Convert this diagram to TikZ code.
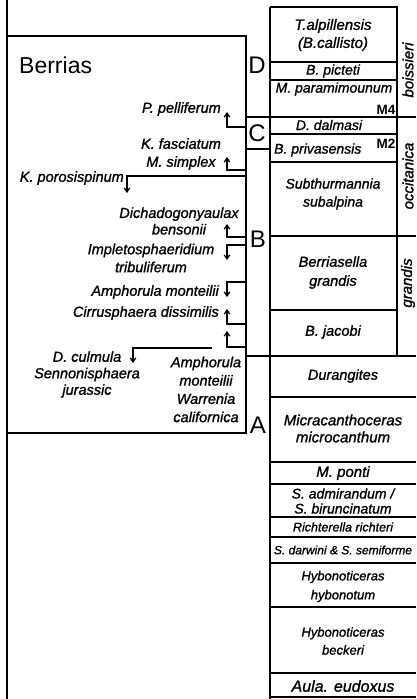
\documentclass[tikz,border=0pt]{standalone}
\usepackage{fontspec}
\setmainfont{Liberation Sans}[ItalicFeatures={FakeBold=1.2}]
\usetikzlibrary{arrows.meta}
\begin{document}
\begin{tikzpicture}[x=1pt,y=-1pt,
  frame/.style={line width=2pt},
  boxline/.style={line width=1.6pt},
  arr/.style={line width=1.3pt,-{Straight Barb[length=4pt,width=5.5pt]}},
  sp/.style={font=\itshape\fontsize{14.5}{16.5}\selectfont,inner sep=0pt,align=center},
  rc/.style={font=\itshape\fontsize{14.5}{18}\selectfont,inner sep=0pt,align=center},
  mk/.style={font=\bfseries\fontsize{13.5}{13.5}\selectfont,inner sep=0pt},
  zone/.style={font=\fontsize{24}{24}\selectfont,inner sep=0pt},
  sub/.style={font=\itshape\fontsize{15}{15}\selectfont,inner sep=0pt,rotate=90}]
\useasboundingbox (0,0) rectangle (416,699);

% frames
\draw[frame] (7,0) -- (7,699);
\draw[frame] (7,36) -- (246,36) -- (246,433) -- (7,433);
\draw[frame] (270,7) -- (270,699);
\draw[frame] (270,7) -- (397,7) -- (397,356);
\draw[frame] (246,117) -- (416,117);
\draw[frame] (246,149) -- (270,149);
\draw[frame] (270,236) -- (416,236);
\draw[frame] (246,356) -- (416,356);

% right column box separators
\foreach \yy in {62,80,134,162,310}
  \draw[boxline] (270,\yy) -- (397,\yy);
\foreach \yy in {397,462,484,517,537,563,607,673,697}
  \draw[boxline] (270,\yy) -- (416,\yy);

% title and zone letters
\node[font=\fontsize{23}{23}\selectfont,inner sep=0pt,anchor=west] (berrias) at (19,65) {Berrias};
\node[zone] (zD) at (257,65) {D};
\node[zone] (zC) at (257,133) {C};
\node[zone] (zB) at (258,239) {B};
\node[zone] (zA) at (258,425) {A};

% stage labels
\node[sub] (boiss) at (408,70) {boissieri};
\node[sub] (occit) at (408,176) {occitanica};
\node[sub] (grand) at (408,283) {grandis};

% right column ammonite zones
\node[rc,font=\itshape\fontsize{15}{18}\selectfont] (talp) at (333,35) {T.alpillensis\\(B.callisto)};
\node[rc,font=\itshape\fontsize{14}{14}\selectfont] (pict) at (333,71) {B. picteti};
\node[rc,font=\itshape\fontsize{14}{14}\selectfont] (param) at (334,89) {M. paramimounum};
\node[mk] (m4) at (386,110) {M4};
\node[rc,font=\itshape\fontsize{14}{14}\selectfont] (dalm) at (329,125) {D. dalmasi};
\node[rc,font=\itshape\fontsize{14}{14}\selectfont,anchor=west] (priv) at (274,150) {B. privasensis};
\node[mk] (m2) at (386,144) {M2};
\node[rc,font=\itshape\fontsize{14}{18}\selectfont] (subth) at (333,194) {Subthurmannia\\subalpina};
\node[rc,font=\itshape\fontsize{14.5}{19}\selectfont] (berg) at (333,272.5) {Berriasella\\grandis};
\node[rc] (jacobi) at (333,332) {B. jacobi};
\node[rc] (durang) at (343,376) {Durangites};
\node[rc,font=\itshape\fontsize{15}{17}\selectfont] (micra) at (343,428.5) {Micracanthoceras\\microcanthum};
\node[rc,font=\itshape\fontsize{15}{15}\selectfont] (ponti) at (343,473) {M. ponti};
\node[rc,font=\itshape\fontsize{14}{15}\selectfont] (admir) at (343,501) {S. admirandum /\\S. biruncinatum};
\node[rc,font=\itshape\fontsize{12.5}{12.5}\selectfont] (richt) at (343,527) {Richterella richteri};
\node[rc,font=\itshape\fontsize{12}{12}\selectfont] (darw) at (343,550) {S. darwini \& S. semiforme};
\node[rc,font=\itshape\fontsize{13}{19}\selectfont] (hybo) at (343,586.5) {Hybonoticeras\\hybonotum};
\node[rc,font=\itshape\fontsize{13}{18}\selectfont] (beck) at (343,641) {Hybonoticeras\\beckeri};
\node[rc,font=\itshape\fontsize{16}{16}\selectfont] (aula) at (343,686) {Aula. eudoxus};

% dinoflagellate labels
\node[sp,anchor=east] (pell) at (221,109) {P. pelliferum};
\node[sp,font=\itshape\fontsize{14.5}{18}\selectfont] (fasc) at (181,154) {K. fasciatum\\M. simplex};
\node[sp,anchor=east] (poro) at (124,178) {K. porosispinum};
\node[sp] (dicha) at (179,221) {Dichadogonyaulax\\bensonii};
\node[sp,font=\itshape\fontsize{14.5}{18}\selectfont] (imple) at (151,258) {Impletosphaeridium\\tribuliferum};
\node[sp,anchor=east] (amph) at (219,292) {Amphorula monteilii};
\node[sp,anchor=east] (cirr) at (219,313) {Cirrusphaera dissimilis};
\node[sp] (culm) at (87,374.5) {D. culmula\\Sennonisphaera\\jurassic};
\node[sp,font=\itshape\fontsize{14.5}{18.3}\selectfont] (warr) at (206,389.5) {Amphorula\\monteilii\\Warrenia\\californica};

% arrow anchor points
\coordinate (s1) at (246,127); \coordinate (t1) at (227,112);
\coordinate (s2) at (246,170); \coordinate (t2) at (227,157);
\coordinate (s3) at (246,176); \coordinate (t3) at (127,193);
\coordinate (s4) at (246,237); \coordinate (t4) at (227,224);
\coordinate (s5) at (246,245); \coordinate (t5) at (227,260);
\coordinate (s6) at (246,282); \coordinate (t6) at (227,297);
\coordinate (s7) at (246,324); \coordinate (t7) at (227,309);
\coordinate (s8) at (246,347); \coordinate (t8) at (227,331);
\coordinate (s9) at (212,348); \coordinate (t9) at (133,363);

\foreach \i in {1,...,9}
  \draw[arr] (s\i) -| (t\i);
\end{tikzpicture}
\end{document}
